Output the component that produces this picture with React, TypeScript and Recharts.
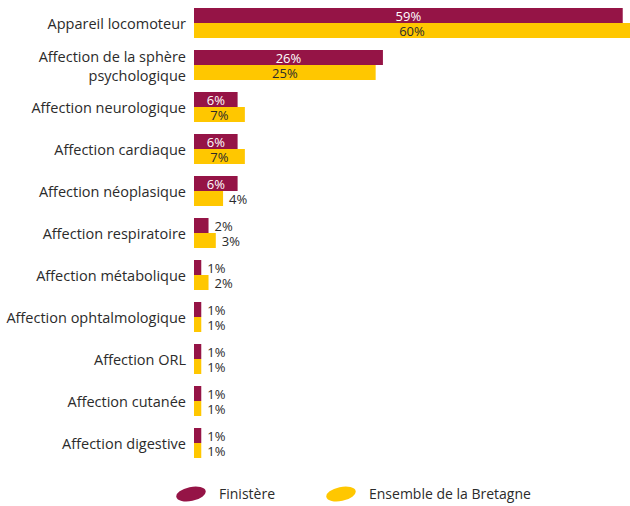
import { BarChart, Bar, XAxis, YAxis, Legend, LabelList } from 'recharts';

const categories = [
  'Appareil locomoteur',
  'Affection de la sphère|psychologique',
  'Affection neurologique',
  'Affection cardiaque',
  'Affection néoplasique',
  'Affection respiratoire',
  'Affection métabolique',
  'Affection ophtalmologique',
  'Affection ORL',
  'Affection cutanée',
  'Affection digestive',
];
const finistere = [59, 26, 6, 6, 6, 2, 1, 1, 1, 1, 1];
const bretagne = [60, 25, 7, 7, 4, 3, 2, 1, 1, 1, 1];

const MAROON = '#951446';
const YELLOW = '#FFC700';
const FONT = '"Open Sans", sans-serif';

const data = categories.map((name, i) => ({
  name,
  finistere: finistere[i],
  bretagne: bretagne[i],
}));

const CategoryTick = (props: any) => {
  const { x, y, payload } = props;
  const lines = String(payload.value).split('|');
  const start = y - ((lines.length - 1) * 19) / 2;
  return (
    <text x={x} y={start} textAnchor="end" dominantBaseline="central" fill="#2b2b2b" fontSize={14.5} fontFamily={FONT}>
      {lines.map((l, i) => (
        <tspan key={i} x={x} y={start + i * 19}>{l}</tspan>
      ))}
    </text>
  );
};

const makeLabel = (insideColor: string) => (props: any) => {
  const { x, y, width, height, value } = props;
  const inside = value >= 5;
  return (
    <text
      x={inside ? x + width / 2 : x + width + 6}
      y={y + height / 2}
      textAnchor={inside ? 'middle' : 'start'}
      dominantBaseline="central"
      fill={inside ? insideColor : '#2b2b2b'}
      fontSize={13}
      fontFamily={FONT}
    >
      {value}%
    </text>
  );
};

const LegendContent = () => {
  const items = [
    { label: 'Finistère', color: MAROON, w: 150 },
    { label: 'Ensemble de la Bretagne', color: YELLOW, w: 220 },
  ];
  return (
    <div style={{ display: 'flex', paddingLeft: 175, paddingTop: 21, fontFamily: FONT, fontSize: 14, lineHeight: '18px', color: '#2b2b2b' }}>
      {items.map((it) => (
        <div key={it.label} style={{ display: 'flex', alignItems: 'center', width: it.w }}>
          <svg width={32} height={18} style={{ marginRight: 12 }}>
            <ellipse cx={16} cy={9} rx={15} ry={7} fill={it.color} transform="rotate(-12 16 9)" />
          </svg>
          <span>{it.label}</span>
        </div>
      ))}
    </div>
  );
};

export default function App() {
  return (
    <div style={{ width: 630, height: 506 }}>
      <style>{'body { margin: 0; }'}</style>
      <BarChart
        width={630}
        height={506}
        data={data}
        layout="vertical"
        margin={{ top: 2, right: 0, bottom: 0, left: 0 }}
        barSize={15}
        barGap={0}
      >
        <XAxis type="number" domain={[0, 60]} hide />
        <YAxis
          type="category"
          dataKey="name"
          width={194}
          tickLine={false}
          axisLine={false}
          tick={<CategoryTick />}
          interval={0}
        />
        <Legend verticalAlign="bottom" height={42} content={<LegendContent />} />
        <Bar dataKey="finistere" fill={MAROON} isAnimationActive={false}>
          <LabelList dataKey="finistere" content={makeLabel('#ffffff')} />
        </Bar>
        <Bar dataKey="bretagne" fill={YELLOW} isAnimationActive={false}>
          <LabelList dataKey="bretagne" content={makeLabel('#2b2b2b')} />
        </Bar>
      </BarChart>
    </div>
  );
}
